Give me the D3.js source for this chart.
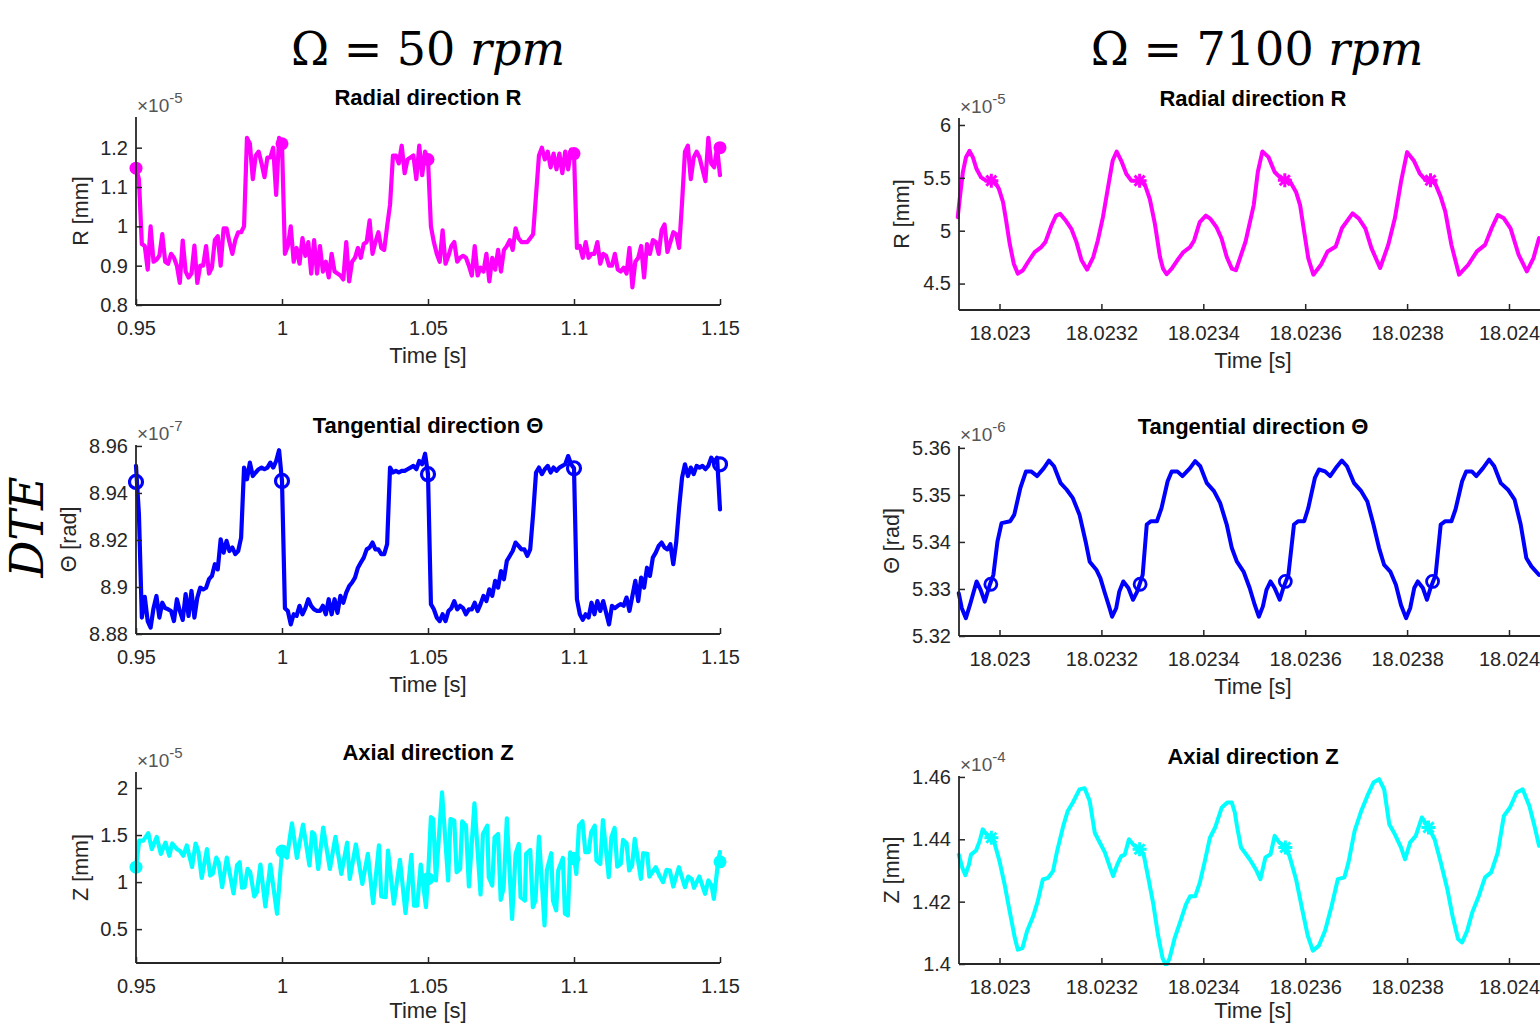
<!DOCTYPE html>
<html><head><meta charset="utf-8">
<script src="https://cdn.jsdelivr.net/npm/d3@7"></script>
<style>
body{margin:0;background:#fff;}
svg{display:block;}
</style></head><body>
<svg id="chart" width="1540" height="1025"></svg>
<script>
// ---------------- DATA ----------------
// 50 rpm: R and Theta sampled every 1 ms from 0.95 s
const leftStart = 0.95, leftStepS = 0.001;
const leftR = [
1.148,1.12,0.955,0.95,0.89,1.0,0.91,0.915,0.925,0.98,
0.91,0.905,0.93,0.92,0.9,0.856,0.964,0.885,0.87,0.88,
0.951,0.856,0.9,0.9,0.95,0.88,0.895,0.965,0.975,0.9,
0.995,0.995,0.96,0.93,0.965,0.985,0.985,1.0,1.225,1.21,
1.12,1.18,1.19,1.16,1.125,1.175,1.175,1.2,1.08,1.225,
1.21,
0.93,0.95,1.0,0.91,0.945,0.905,0.97,0.925,0.96,0.88,
0.965,0.88,0.95,0.885,0.91,0.87,0.93,0.885,0.88,0.875,
0.865,0.96,0.86,0.91,0.92,0.945,0.92,0.955,0.96,1.015,
0.93,0.96,0.985,0.945,0.94,1.0,1.055,1.18,1.18,1.16,
1.205,1.135,1.17,1.175,1.18,1.12,1.205,1.13,1.19,1.17,
1.0,0.96,0.93,0.91,0.99,0.905,0.925,0.95,0.96,0.91,
0.92,0.925,0.92,0.9,0.875,0.95,0.875,0.895,0.885,0.93,
0.86,0.92,0.89,0.94,0.885,0.94,0.95,0.965,0.94,0.995,
0.97,0.96,0.96,0.96,0.97,0.98,1.08,1.18,1.2,1.17,
1.19,1.15,1.185,1.145,1.185,1.135,1.19,1.145,1.195,1.185,
0.945,0.95,0.92,0.96,0.92,0.93,0.93,0.96,0.905,0.93,
0.925,0.9,0.9,0.93,0.89,0.885,0.895,0.88,0.945,0.845,
0.91,0.92,0.95,0.87,0.955,0.93,0.965,0.96,0.93,0.99,
1.005,0.935,0.96,0.985,0.98,0.945,1.06,1.19,1.205,1.12,
1.175,1.19,1.175,1.145,1.115,1.225,1.16,1.15,1.2,1.13
];
const leftTheta = [
8.9515,8.931,8.887,8.8958,8.8855,8.8827,8.891,8.8962,8.887,8.8933,
8.891,8.8905,8.8898,8.8855,8.8948,8.8898,8.886,8.897,8.8877,8.8983,
8.887,8.8955,8.8997,8.899,8.8997,8.9033,8.9047,8.9097,8.9075,8.9203,
8.9146,8.9196,8.9153,8.9168,8.914,8.9153,8.921,8.9508,8.9458,8.9529,
8.9472,8.9487,8.9501,8.9508,8.9501,8.9508,8.9529,8.9508,8.9536,8.9582,
8.9451,
8.891,8.8898,8.8841,8.8884,8.8877,8.892,8.8884,8.891,8.8948,8.892,
8.8905,8.8898,8.8898,8.892,8.8884,8.8948,8.8884,8.8948,8.889,8.8962,
8.8933,8.8976,8.9004,8.9019,8.904,8.9082,8.9104,8.9125,8.916,8.9168,
8.9189,8.916,8.916,8.914,8.914,8.9182,8.9508,8.9487,8.9494,8.9487,
8.9494,8.9494,8.9501,8.9508,8.9515,8.9501,8.9536,8.9522,8.9567,8.948,
8.8927,8.8905,8.887,8.8855,8.8884,8.8855,8.8898,8.891,8.894,8.8905,
8.892,8.891,8.8884,8.8905,8.8905,8.8933,8.8898,8.8927,8.8962,8.894,
8.899,8.8962,8.9026,8.8997,8.9068,8.9033,8.9111,8.9132,8.9153,8.9189,
8.9175,8.916,8.916,8.9132,8.916,8.931,8.9487,8.9508,8.948,8.9501,
8.9515,8.9487,8.9508,8.9494,8.9508,8.9515,8.9522,8.9557,8.9522,8.9505,
8.8948,8.8884,8.886,8.8884,8.887,8.8933,8.8884,8.894,8.8898,8.894,
8.889,8.8841,8.892,8.891,8.892,8.8927,8.892,8.8955,8.8898,8.8962,
8.9026,8.894,8.904,8.8997,8.9082,8.9047,8.9125,8.9146,8.9175,8.9189,
8.9168,8.916,8.9182,8.9097,8.9189,8.9338,8.9465,8.9522,8.9472,8.9508,
8.948,8.9515,8.9508,8.9515,8.9501,8.9515,8.955,8.9529,8.955,8.933
];
// 50 rpm axial: vertices, time in ms after 0.95 s
const leftZTimeMs = [0,1.1,2.5,4.2,5.4,7.1,8.5,10.1,11.4,12.4,14,15.1,16.2,17.4,19.2,20.4,21.4,22.5,24.3,25.4,26.3,27.5,28.3,29.5,31.1,33.4,34.6,35.5,36.3,37.2,38.2,39.1,40.5,41.4,42.6,44.3,46,48.3,50,50.6,51.7,53.4,55.1,57.2,59.4,60.3,61.1,62.4,64.1,66.4,68.3,70.3,72.3,73.2,75.3,77.5,79.4,81.2,83.2,84,85.5,86.3,88.3,90.4,92.3,94.3,95.2,96.3,97.5,99.3,100,101,101.8,102.7,104.8,106.9,107.7,109,109.8,111,111.7,113,114,115.9,118,118.8,120.3,120.8,122,122.8,124,124.9,125.9,127,128.8,130,131.1,131.7,133.2,133.6,135,135.9,136.8,138,139.9,140.7,142.2,142.8,143.9,144.6,146.2,146.9,147.9,148.7,149.4,149.9,150.8,151.7,152.9,153.9,155,155.9,157.1,157.7,159,159.9,161.9,162.8,163.9,164.8,166,166.8,168,168.9,169.9,170.8,172.9,173.7,175.1,175.8,178,179.4,180.5,181.7,182.8,184,185.9,188,189.1,190.3,191.1,192.9,194.9,196,197.1,197.9,199.4,200];
const leftZ = [1.158,1.44,1.44,1.52,1.35,1.48,1.30,1.42,1.28,1.41,1.35,1.33,1.28,1.39,1.16,1.41,1.32,1.045,1.35,1.07,1.09,1.26,1.21,0.946,1.26,0.88,1.18,1.21,0.94,0.946,1.14,1.105,0.847,0.893,1.186,0.741,1.186,0.663,1.33,1.30,1.26,1.625,1.257,1.61,1.176,1.53,1.51,1.14,1.58,1.14,1.48,1.087,1.42,1.034,1.40,0.98,1.30,0.776,1.39,0.847,0.84,1.335,0.77,1.236,0.67,1.29,0.75,0.75,1.186,0.734,1.05,1.69,1.67,1.017,1.954,1.017,1.67,1.653,1.105,1.14,1.646,1.60,0.953,1.837,0.868,1.51,1.60,1.052,0.964,1.476,1.51,0.811,0.94,1.678,0.61,1.30,1.406,0.84,0.804,1.30,1.342,0.734,0.804,1.483,0.539,1.123,1.307,0.804,0.70,1.123,1.257,0.663,0.645,1.317,1.247,1.30,1.087,1.60,1.646,1.317,1.317,1.53,1.60,1.229,1.193,1.66,1.052,1.476,1.575,1.165,1.193,1.448,1.413,1.123,1.176,1.459,1.034,1.307,1.30,1.059,1.158,1.059,1.0,1.13,1.123,0.953,1.158,0.946,1.059,1.034,0.939,1.059,0.875,1.017,0.964,0.822,1.229,1.32];
// 50 rpm markers
const leftMarkT = [0.95,1.0,1.05,1.1,1.15];
const leftMarkR = [1.148,1.21,1.17,1.185,1.2];
const leftMarkTheta = [8.9447,8.9451,8.948,8.9505,8.9522];
const leftMarkZ = [1.158,1.33,1.036,1.247,1.215];

// 7100 rpm: time offsets in microseconds after 18.023 s
const rightBase = 18.023;
const rightRTimeUs = [-82,-77,-72,-66,-59,-52,-45,-36,-26,-16,-10,-1,7,13,20,28,36,46,56,69,82,90,102,111,119,130,141,151,161,172,184,193,203,213,222,230,239,249,259,272,285,295,305,315,321,328,338,349,361,374,382,393,405,414,426,436,446,456,464,483,499,507,516,528,540,553,569,582,590,598,606,616,631,644,660,672,693,705,718,730,747,763,776,788,800,813,825,837,854,866,875,887,902,920,937,953,966,978,990,1003,1019,1035,1048,1059];
const rightR = [5.128,5.347,5.551,5.692,5.755,5.692,5.583,5.504,5.473,5.473,5.473,5.394,5.269,5.096,4.877,4.688,4.594,4.626,4.704,4.798,4.845,4.892,5.049,5.143,5.159,5.096,5.018,4.892,4.72,4.632,4.751,4.908,5.128,5.41,5.661,5.749,5.661,5.536,5.473,5.473,5.441,5.30,5.065,4.751,4.641,4.588,4.641,4.72,4.798,4.845,4.908,5.081,5.143,5.112,5.033,4.924,4.751,4.641,4.626,4.898,5.242,5.555,5.75,5.696,5.555,5.493,5.477,5.367,5.242,4.99,4.741,4.584,4.678,4.804,4.851,5.023,5.164,5.117,5.023,4.835,4.647,4.866,5.117,5.461,5.743,5.665,5.54,5.477,5.461,5.32,5.18,4.866,4.584,4.678,4.804,4.866,5.023,5.148,5.117,5.023,4.772,4.616,4.741,4.93];
const rightThetaTimeUs = [-80,-74,-66,-58,-45,-37,-29,-19,-12,-4,4,21,29,41,52,62,74,87,97,107,120,132,144,157,169,177,190,198,206,215,221,229,235,243,253,262,270,281,289,297,309,318,330,338,349,359,374,384,394,407,421,433,446,456,466,479,491,501,509,517,524,532,540,550,557,567,578,586,598,606,619,627,639,649,660,672,682,696,710,722,734,745,755,767,778,788,798,806,814,821,831,839,846,856,866,875,887,895,908,916,927,936,949,961,971,984,998,1011,1023,1034,1044,1059];
const rightTheta = [5.3291,5.3259,5.3238,5.3266,5.3316,5.3298,5.3273,5.3309,5.333,5.3401,5.344,5.3444,5.3458,5.3515,5.355,5.355,5.354,5.3557,5.3573,5.3561,5.3525,5.3511,5.3493,5.3458,5.3401,5.3358,5.3341,5.3323,5.3294,5.3263,5.3241,5.3259,5.3294,5.3316,5.3302,5.3277,5.3294,5.333,5.3437,5.3444,5.3444,5.3472,5.3529,5.355,5.355,5.354,5.3557,5.3572,5.3561,5.3525,5.3508,5.3483,5.3437,5.3387,5.3358,5.3337,5.3302,5.3266,5.3241,5.3263,5.3298,5.3316,5.3302,5.3277,5.3302,5.333,5.3437,5.3444,5.3444,5.3472,5.3536,5.3554,5.355,5.354,5.3557,5.3573,5.3561,5.3525,5.3508,5.3486,5.3437,5.3387,5.3351,5.3337,5.3309,5.3266,5.3238,5.3259,5.3302,5.3316,5.3302,5.3277,5.3302,5.333,5.3437,5.3444,5.3444,5.3469,5.3529,5.355,5.355,5.354,5.3557,5.3575,5.3561,5.3525,5.3511,5.349,5.3437,5.3366,5.3348,5.333];
const rightZTimeUs = [-80,-73,-67,-60,-56,-46,-39,-33,-23,-16,-10,0,10,20,30,36,45,54,66,75,85,95,105,113,125,134,144,157,167,177,187,197,207,215,223,231,239,246,254,262,275,283,292,302,311,320,327,334,344,355,366,374,384,393,403,413,423,436,447,456,462,466,474,491,503,512,522,532,540,549,561,569,582,594,605,615,627,639,652,664,677,685,697,710,722,734,745,755,765,776,788,796,806,817,829,842,854,866,879,889,900,908,918,928,941,953,965,978,990,1002,1015,1027,1040,1050,1059];
const rightZ = [1.4351,1.4309,1.4285,1.4319,1.4351,1.4364,1.4394,1.4432,1.441,1.4405,1.4389,1.433,1.4255,1.4169,1.4084,1.4046,1.4051,1.4105,1.4153,1.4201,1.4271,1.4276,1.4298,1.4362,1.4442,1.4491,1.4518,1.456,1.4564,1.4523,1.4421,1.4389,1.4357,1.4319,1.4282,1.4319,1.4346,1.4351,1.44,1.4384,1.4368,1.4351,1.4276,1.4191,1.4094,1.4019,1.3995,1.4019,1.4084,1.4137,1.4191,1.4217,1.4217,1.426,1.433,1.4405,1.4437,1.4501,1.4518,1.4518,1.4485,1.4443,1.4374,1.4336,1.4304,1.4272,1.4342,1.4352,1.4411,1.439,1.4374,1.4347,1.4272,1.4176,1.4091,1.4043,1.4059,1.4107,1.4187,1.4272,1.4278,1.4326,1.4427,1.4491,1.4539,1.4582,1.4593,1.456,1.4448,1.4416,1.4374,1.4336,1.439,1.4411,1.447,1.4438,1.44,1.4326,1.424,1.4155,1.408,1.4069,1.4107,1.4166,1.4219,1.4278,1.4294,1.4358,1.4475,1.4502,1.455,1.456,1.4507,1.4443,1.4379];
const rightMarkRUs = [-16,275,560,846];
const rightMarkR = [5.473,5.473,5.477,5.477];
const rightMarkThetaUs = [-17,276,561,850];
const rightMarkTheta = [5.331,5.331,5.3316,5.3316];
const rightMarkZUs = [-16,275,561,842];
const rightMarkZ = [1.4405,1.4368,1.4374,1.4438];

// ticks
const leftXTicks = [0.95,1.0,1.05,1.1,1.15];
const leftXLabels = ["0.95","1","1.05","1.1","1.15"];
const rightXTicks = [18.023,18.0232,18.0234,18.0236,18.0238,18.024];
const rightXLabels = ["18.023","18.0232","18.0234","18.0236","18.0238","18.024"];
const lRTicks = [0.8,0.9,1.0,1.1,1.2], lRLabels = ["0.8","0.9","1","1.1","1.2"];
const lThTicks = [8.88,8.9,8.92,8.94,8.96], lThLabels = ["8.88","8.9","8.92","8.94","8.96"];
const lZTicks = [0.5,1,1.5,2], lZLabels = ["0.5","1","1.5","2"];
const rRTicks = [4.5,5,5.5,6], rRLabels = ["4.5","5","5.5","6"];
const rThTicks = [5.32,5.33,5.34,5.35,5.36], rThLabels = ["5.32","5.33","5.34","5.35","5.36"];
const rZTicks = [1.4,1.42,1.44,1.46], rZLabels = ["1.4","1.42","1.44","1.46"];

const titles = ["Radial direction R","Tangential direction \u0398","Axial direction Z"];
const yTitles = ["R [mm]","\u0398 [rad]","Z [mm]"];
const xTitle = "Time [s]";
const headers = [{pre:"\u03A9 = 50 ", it:"rpm"},{pre:"\u03A9 = 7100 ", it:"rpm"}];
const sideLabel = "DTE";

// ---------------- DRAW ----------------
const svg = d3.select("#chart");
const SANS = "'Liberation Sans', Arial, Helvetica, sans-serif";
const SERIF = "'DejaVu Serif', 'Liberation Serif', serif";
const AX = "#262626";
const MAGENTA = "#ff00ff", BLUE = "#0000ff", CYAN = "#00ffff";

const leftSeriesR = leftR.map((v,i)=>({t: leftStart + i*leftStepS, v}));
const leftSeriesTh = leftTheta.map((v,i)=>({t: leftStart + i*leftStepS, v}));
const leftSeriesZ = leftZ.map((v,i)=>({t: leftStart + leftZTimeMs[i]/1000, v}));
const toRight = (us, vals) => vals.map((v,i)=>({t: rightBase + us[i]*1e-6, v}));

const defs = svg.append("defs");
let clipId = 0;

function panel(c){
  const x = d3.scaleLinear().domain(c.xDomain).range([c.x0, c.x1]);
  const y = d3.scaleLinear().domain(c.yDomain).range([c.yBot, c.yTop]);
  const g = svg.append("g");
  const id = "clip" + (clipId++);
  defs.append("clipPath").attr("id", id).append("rect")
    .attr("x", c.x0 - 8).attr("y", c.yTop - 10)
    .attr("width", c.x1 - c.x0 + 16).attr("height", c.yBot - c.yTop + 12);

  const line = d3.line().x(d=>x(d.t)).y(d=>y(d.v));
  g.append("path").datum(c.data).attr("clip-path", `url(#${id})`)
    .attr("d", line).attr("fill","none").attr("stroke", c.color)
    .attr("stroke-width", c.lw).attr("stroke-linejoin","round").attr("stroke-linecap","round");

  const mk = g.append("g").attr("clip-path", `url(#${id})`);
  c.marks.forEach(m=>{
    const px = x(m.t), py = y(m.v);
    if (c.marker === "fill") {
      mk.append("circle").attr("cx",px).attr("cy",py).attr("r",c.mr).attr("fill",c.color);
    } else if (c.marker === "open") {
      mk.append("circle").attr("cx",px).attr("cy",py).attr("r",c.mr).attr("fill","none")
        .attr("stroke",c.color).attr("stroke-width",c.mw);
    } else {
      const r = c.mr, s = r*0.72;
      mk.append("path").attr("transform",`translate(${px},${py})`)
        .attr("d",`M${-r},0H${r}M0,${-r}V${r}M${-s},${-s}L${s},${s}M${-s},${s}L${s},${-s}`)
        .attr("stroke",c.color).attr("stroke-width",c.mw).attr("fill","none");
    }
  });

  const xa = d3.axisBottom(x).tickValues(c.xTicks).tickFormat((d,i)=>c.xLabels[i])
    .tickSizeInner(-6).tickSizeOuter(0).tickPadding(16);
  const ya = d3.axisLeft(y).tickValues(c.yTicks).tickFormat((d,i)=>c.yLabels[i])
    .tickSizeInner(-6).tickSizeOuter(0).tickPadding(8);
  const gx = g.append("g").attr("transform",`translate(0,${c.yBot})`).call(xa);
  const gy = g.append("g").attr("transform",`translate(${c.x0},0)`).call(ya);
  [gx,gy].forEach(a=>{
    a.select(".domain").attr("stroke",AX).attr("stroke-width",1.8);
    a.selectAll(".tick line").attr("stroke",AX).attr("stroke-width",1.5);
    a.selectAll(".tick text").attr("fill",AX).attr("font-family",SANS).attr("font-size",20);
  });
  gy.select(".domain").attr("d", `M0,${c.yBot}V${c.yTop}`);
  gx.select(".domain").attr("d", `M${c.x0},0H${c.x1}`);

  g.append("text").attr("x",(c.x0+c.x1)/2).attr("y",c.yTop - 12)
    .attr("text-anchor","middle").attr("font-family",SANS).attr("font-weight","bold")
    .attr("font-size",22).attr("fill","#000").text(c.title);
  g.append("text").attr("x",(c.x0+c.x1)/2).attr("y",Math.min(c.yBot + 58, 1018))
    .attr("text-anchor","middle").attr("font-family",SANS).attr("font-size",22)
    .attr("fill",AX).text(xTitle);
  const yc = (c.yTop + c.yBot)/2;
  g.append("text").attr("transform",`translate(${c.yLabelX},${yc}) rotate(-90)`)
    .attr("text-anchor","middle").attr("font-family",SANS).attr("font-size",21.5)
    .attr("fill",AX).text(c.yTitle);
  const ex = g.append("text").attr("x",c.x0 + 1).attr("y",c.yTop - 5)
    .attr("font-family",SANS).attr("font-size",19).attr("fill","#555");
  ex.append("tspan").text("\u00D710");
  ex.append("tspan").attr("dy",-9).attr("font-size",15).text(c.exp);
}

const L = {x0:136, x1:720, xDomain:[0.95,1.15], xTicks:leftXTicks, xLabels:leftXLabels, lw:4.2};
const R = {x0:959, x1:1547, xDomain:[18.0229205,18.0240746], xTicks:rightXTicks, xLabels:rightXLabels, lw:4};

panel({...L, yTop:117, yBot:305, yDomain:[0.8,1.278], yTicks:lRTicks, yLabels:lRLabels,
  data:leftSeriesR, color:MAGENTA, title:titles[0], yTitle:yTitles[0], yLabelX:88, exp:"-5",
  marks:leftMarkT.map((t,i)=>({t, v:leftMarkR[i]})), marker:"fill", mr:6.5});
panel({...L, yTop:445, yBot:634, yDomain:[8.88,8.9604], yTicks:lThTicks, yLabels:lThLabels,
  data:leftSeriesTh, color:BLUE, title:titles[1], yTitle:yTitles[1], yLabelX:76, exp:"-7",
  marks:leftMarkT.map((t,i)=>({t, v:leftMarkTheta[i]})), marker:"open", mr:6.5, mw:3.2});
panel({...L, yTop:772, yBot:963, yDomain:[0.14,2.17], yTicks:lZTicks, yLabels:lZLabels,
  data:leftSeriesZ, color:CYAN, title:titles[2], yTitle:yTitles[2], yLabelX:88, exp:"-5",
  marks:leftMarkT.map((t,i)=>({t, v:leftMarkZ[i]})), marker:"fill", mr:6.5});

panel({...R, yTop:118, yBot:310, yDomain:[4.25,6.066], yTicks:rRTicks, yLabels:rRLabels,
  data:toRight(rightRTimeUs,rightR), color:MAGENTA, title:titles[0], yTitle:yTitles[0], yLabelX:909, exp:"-5",
  marks:rightMarkRUs.map((u,i)=>({t:rightBase+u*1e-6, v:rightMarkR[i]})), marker:"star", mr:7, mw:3});
panel({...R, yTop:446, yBot:636, yDomain:[5.32,5.3604], yTicks:rThTicks, yLabels:rThLabels,
  data:toRight(rightThetaTimeUs,rightTheta), color:BLUE, title:titles[1], yTitle:yTitles[1], yLabelX:899, exp:"-6",
  marks:rightMarkThetaUs.map((u,i)=>({t:rightBase+u*1e-6, v:rightMarkTheta[i]})), marker:"open", mr:6, mw:2.8});
panel({...R, yTop:776, yBot:964, yDomain:[1.4,1.4603], yTicks:rZTicks, yLabels:rZLabels,
  data:toRight(rightZTimeUs,rightZ), color:CYAN, title:titles[2], yTitle:yTitles[2], yLabelX:899, exp:"-4",
  marks:rightMarkZUs.map((u,i)=>({t:rightBase+u*1e-6, v:rightMarkZ[i]})), marker:"star", mr:7, mw:3});

[[428, headers[0]],[1257, headers[1]]].forEach(([cx,h])=>{
  const t = svg.append("text").attr("x",cx).attr("y",65).attr("text-anchor","middle")
    .attr("font-family",SERIF).attr("font-size",46).attr("fill","#000");
  t.append("tspan").text(h.pre);
  t.append("tspan").attr("font-style","italic").text(h.it);
});
svg.append("text").attr("transform","translate(43,527) rotate(-90)")
  .attr("text-anchor","middle").attr("font-family",SERIF).attr("font-style","italic")
  .attr("font-size",46).attr("fill","#000").text(sideLabel);
</script></body></html>
